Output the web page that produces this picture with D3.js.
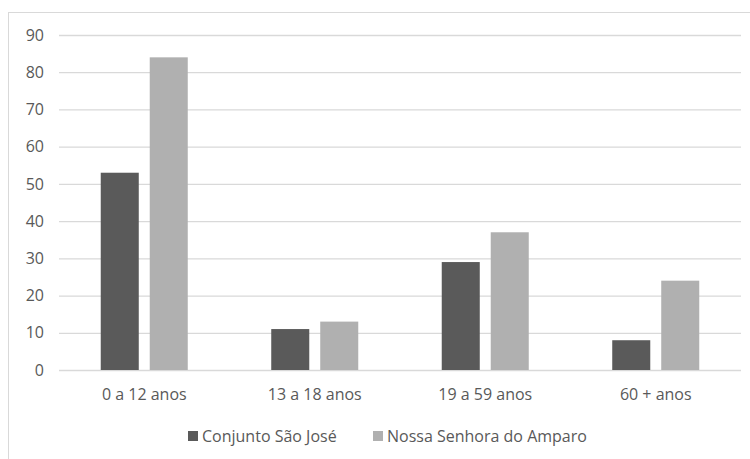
<!DOCTYPE html>
<html><head><meta charset="utf-8">
<script src="https://cdn.jsdelivr.net/npm/d3@7"></script>
<style>body{margin:0;background:#fff;} text{font-family:"Open Sans","Liberation Sans",sans-serif;fill:#595959;}</style>
</head><body><svg id="c" width="750" height="459"></svg>
<script>
const categories = ["0 a 12 anos","13 a 18 anos","19 a 59 anos","60 + anos"];
const seriesNames = ["Conjunto São José","Nossa Senhora do Amparo"];
const conjuntoSaoJose = [53,11,29,8];
const nossaSenhora = [84,13,37,24];
const yTicks = [0,10,20,30,40,50,60,70,80,90];
const colors = ["#5a5a5a","#b0b0b0"];

(function(){
const svg = d3.select("#c");
svg.append("rect").attr("x",8.5).attr("y",12.5).attr("width",760).attr("height",460)
  .attr("fill","none").attr("stroke","#d9d9d9");

const pL=59, pR=741, pT=35, pB=370;
const fs = 16;
const x = d3.scaleBand().domain(categories).range([pL,pR]);
const xs = d3.scaleBand().domain(seriesNames).range([0,x.bandwidth()]).paddingInner(0.224).paddingOuter(0.852);
const y = d3.scaleLinear().domain([0,90]).range([pB,pT]);

const yAxis = d3.axisLeft(y).tickValues(yTicks).tickSize(-(pR-pL)).tickPadding(15);
const gy = svg.append("g").attr("transform",`translate(${pL},0)`).call(yAxis);
gy.select(".domain").remove();
gy.selectAll(".tick line").attr("stroke","#d9d9d9").attr("stroke-width",1.3);
gy.selectAll(".tick text").attr("font-size",fs).style("fill","#595959");

const data = [conjuntoSaoJose, nossaSenhora];
seriesNames.forEach((s,i)=>{
  svg.append("g").selectAll("rect").data(categories).join("rect")
    .attr("x",d=>x(d)+xs(s)).attr("width",xs.bandwidth())
    .attr("y",(d,j)=>y(data[i][j])).attr("height",(d,j)=>y(0)-y(data[i][j]))
    .attr("fill",colors[i]);
});

const xAxis = d3.axisBottom(x).tickSize(0).tickPadding(19);
const gx = svg.append("g").attr("transform",`translate(0,${pB})`).call(xAxis);
gx.select(".domain").remove();
gx.selectAll(".tick text").attr("font-size",fs).style("fill","#595959");

const legend = svg.append("g");
const lx = [188, 373];
seriesNames.forEach((s,i)=>{
  legend.append("rect").attr("x",lx[i]).attr("y",431).attr("width",10).attr("height",10).attr("fill",colors[i]);
  legend.append("text").attr("x",lx[i]+14).attr("y",442).attr("font-size",fs).text(s);
});
})();
</script></body></html>
